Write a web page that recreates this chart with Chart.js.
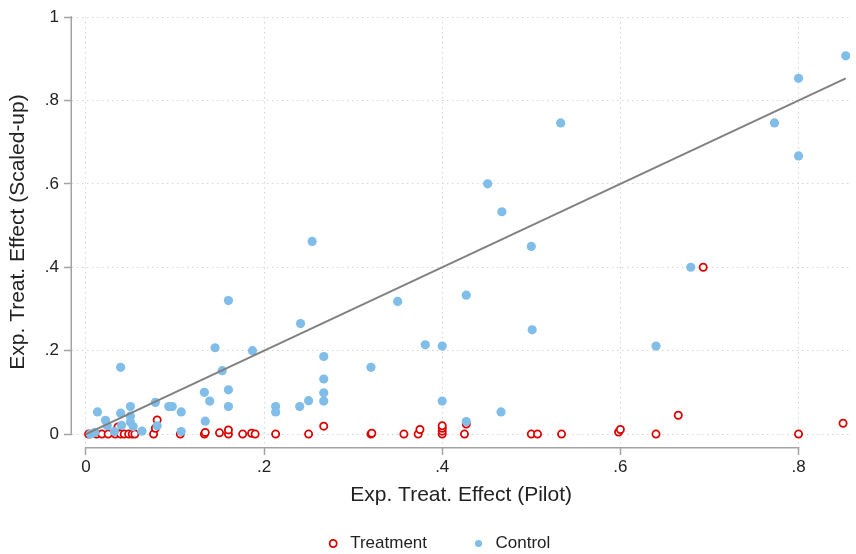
<!DOCTYPE html>
<html>
<head>
<meta charset="utf-8">
<script src="https://cdn.jsdelivr.net/npm/chart.js@4.4.1/dist/chart.umd.min.js"></script>
<style>
  html, body { margin: 0; padding: 0; background: #fff; }
  #wrap { width: 856px; height: 554px; }
</style>
</head>
<body>
<div id="wrap"><canvas id="scatterChart" width="856" height="554"></canvas></div>
<script>
/* Data START */
var treatX = [0.003, 0.012, 0.018, 0.025, 0.033, 0.036, 0.039, 0.043, 0.048, 0.052, 0.055, 0.076, 0.078, 0.08,
    0.106, 0.133, 0.134, 0.15, 0.16, 0.16, 0.176, 0.186, 0.19, 0.213, 0.25, 0.267, 0.32, 0.321, 0.357, 0.373,
    0.375, 0.4, 0.4, 0.4, 0.4, 0.425, 0.427, 0.5, 0.507, 0.534, 0.598, 0.6, 0.64, 0.665, 0.693, 0.8, 0.85];
var treatY = [0, 0, 0, 0, 0, 0.017, 0, 0, 0, 0, 0, 0, 0.014, 0.034,
    0, 0, 0.004, 0.003, 0, 0.01, 0, 0.002, 0, 0, 0, 0.019, 0, 0.002, 0, 0,
    0.011, 0, 0.007, 0.014, 0.02, 0, 0.024, 0, 0, 0, 0.005, 0.011, 0, 0.045, 0.4, 0, 0.026];

var ctrlX = [0.005, 0.01, 0.013, 0.022, 0.024, 0.032, 0.039, 0.039, 0.04, 0.05, 0.05, 0.05, 0.053, 0.063,
    0.078, 0.08, 0.093, 0.097, 0.107, 0.107, 0.133, 0.134, 0.139, 0.145, 0.153, 0.16, 0.16, 0.16, 0.187,
    0.213, 0.213, 0.24, 0.241, 0.25, 0.254, 0.267, 0.267, 0.267, 0.267, 0.32, 0.35, 0.381, 0.4, 0.4,
    0.427, 0.427, 0.451, 0.466, 0.467, 0.5, 0.501, 0.533, 0.64, 0.679, 0.773, 0.8, 0.8, 0.853];
var ctrlY = [0, 0.004, 0.053, 0.033, 0.02, 0.006, 0.16, 0.05, 0.021, 0.066, 0.043, 0.029, 0.018, 0.007,
    0.076, 0.02, 0.066, 0.066, 0.053, 0.006, 0.1, 0.031, 0.079, 0.207, 0.152, 0.32, 0.106, 0.066, 0.2,
    0.066, 0.053, 0.066, 0.265, 0.08, 0.462, 0.186, 0.132, 0.099, 0.079, 0.16, 0.318, 0.214, 0.211, 0.079,
    0.333, 0.03, 0.6, 0.053, 0.533, 0.45, 0.25, 0.746, 0.211, 0.4, 0.746, 0.853, 0.667, 0.907];

var lineX = [0, 0.853];
var lineY = [0, 0.853];

var xTicks = [0, 0.2, 0.4, 0.6, 0.8];
var xTickLabels = ['0', '.2', '.4', '.6', '.8'];
var yTicks = [0, 0.2, 0.4, 0.6, 0.8, 1];
var yTickLabels = ['0', '.2', '.4', '.6', '.8', '1'];

var seriesNames = ['Treatment', 'Control'];
/* Data END */

function toPoints(xs, ys) {
    return xs.map((x, i) => ({x: x, y: ys[i]}));
}

var fontFamily = "'Liberation Sans', Arial, sans-serif";
var axisGray = '#a3a3a3';
var gridGray = '#d4d4d4';

// stata-like axis lines: only over the tick range, detached from each other
var axisLines = {
    id: 'axisLines',
    afterDraw(chart) {
        const ctx = chart.ctx;
        const xs = chart.scales.x;
        const ys = chart.scales.y;
        ctx.save();
        ctx.strokeStyle = axisGray;
        ctx.lineWidth = 1.5;
        ctx.setLineDash([]);
        ctx.beginPath();
        ctx.moveTo(xs.getPixelForValue(xTicks[0]) - 0.75, xs.top + 0.75);
        ctx.lineTo(xs.getPixelForValue(xTicks[xTicks.length - 1]) + 0.75, xs.top + 0.75);
        ctx.moveTo(ys.right - 0.75, ys.getPixelForValue(yTicks[0]) + 0.75);
        ctx.lineTo(ys.right - 0.75, ys.getPixelForValue(yTicks[yTicks.length - 1]) - 0.75);
        ctx.stroke();
        ctx.restore();
    }
};

var chart = new Chart('scatterChart', {
    type: 'scatter',
    data: {
        datasets: [{
            label: seriesNames[0],
            data: toPoints(treatX, treatY),
            pointStyle: 'circle',
            pointRadius: 3.6,
            pointBorderWidth: 1.8,
            borderColor: '#dc0000',
            backgroundColor: '#ffffff',
            pointBorderColor: '#dc0000',
            pointBackgroundColor: '#ffffff',
            order: 2
        }, {
            label: seriesNames[1],
            data: toPoints(ctrlX, ctrlY),
            pointStyle: 'circle',
            pointRadius: 4.6,
            pointBorderWidth: 0,
            borderColor: '#80bde8',
            backgroundColor: '#80bde8',
            pointBackgroundColor: '#80bde8',
            order: 1
        }, {
            label: 'fit',
            data: toPoints(lineX, lineY),
            showLine: true,
            pointRadius: 0,
            borderColor: '#808080',
            borderWidth: 2,
            order: 0
        }]
    },
    options: {
        responsive: false,
        animation: false,
        devicePixelRatio: 1,
        layout: {
            padding: {left: 21, right: 2, top: 17, bottom: 0}
        },
        scales: {
            x: {
                type: 'linear',
                min: -0.0156,
                max: 0.858,
                afterBuildTicks: scale => { scale.ticks = xTicks.map(v => ({value: v})); },
                afterFit: scale => { scale.height = 45; },
                ticks: {
                    padding: 2,
                    color: '#222',
                    font: {family: fontFamily, size: 17},
                    callback: (value, index) => xTickLabels[index]
                },
                grid: {
                    color: gridGray,
                    lineWidth: 1,
                    tickColor: axisGray,
                    tickLength: 8,
                    tickWidth: 1.5,
                    tickBorderDash: []
                },
                border: {display: false, width: 0, color: 'rgba(0,0,0,0)', dash: [1.5, 3.5]},
                title: {
                    display: true,
                    text: 'Exp. Treat. Effect (Pilot)',
                    color: '#222',
                    font: {family: fontFamily, size: 21},
                    padding: {top: 0, bottom: -15.6}
                }
            },
            y: {
                type: 'linear',
                min: -0.031,
                max: 1,
                afterBuildTicks: scale => { scale.ticks = yTicks.map(v => ({value: v})); },
                afterFit: scale => { scale.width = 51; },
                ticks: {
                    padding: 5,
                    color: '#222',
                    font: {family: fontFamily, size: 17},
                    callback: (value, index) => yTickLabels[index]
                },
                grid: {
                    color: gridGray,
                    lineWidth: 1,
                    tickColor: axisGray,
                    tickLength: 8,
                    tickWidth: 1.5,
                    tickBorderDash: []
                },
                border: {display: false, width: 0, color: 'rgba(0,0,0,0)', dash: [1.5, 3.5]},
                title: {
                    display: true,
                    text: 'Exp. Treat. Effect (Scaled-up)',
                    color: '#222',
                    font: {family: fontFamily, size: 21},
                    padding: {top: -15.6, bottom: 0}
                }
            }
        },
        plugins: {
            legend: {
                position: 'bottom',
                maxHeight: 62,
                labels: {
                    usePointStyle: true,
                    boxWidth: 17,
                    boxHeight: 5,
                    padding: 43,
                    color: '#222',
                    font: {family: fontFamily, size: 17},
                    filter: item => item.datasetIndex < 2,
                    sort: (a, b) => a.datasetIndex - b.datasetIndex
                }
            },
            tooltip: {enabled: false}
        }
    },
    plugins: [axisLines]
});
</script>
</body>
</html>
